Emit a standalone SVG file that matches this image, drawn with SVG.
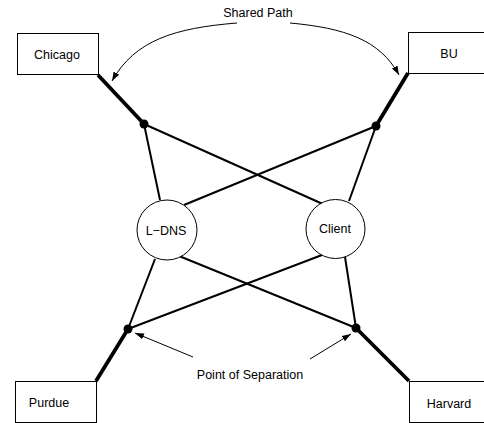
<svg xmlns="http://www.w3.org/2000/svg" width="484" height="423" viewBox="0 0 484 423">
<defs>
<style>
text{font-family:"Liberation Sans",Arial,sans-serif;font-size:12.5px;fill:#000;text-anchor:middle}
.box{fill:#fff;stroke:#000;stroke-width:1}
.node{fill:#fff;stroke:#000;stroke-width:1}
.thin{stroke:#000;stroke-width:2;fill:none}
.thick{stroke:#000;stroke-width:3.8;fill:none}
.ann{stroke:#000;stroke-width:1;fill:none}
.dot{fill:#000}
</style>
<marker id="ah" viewBox="0 0 10 10" refX="10" refY="5" markerWidth="9" markerHeight="9" markerUnits="userSpaceOnUse" orient="auto">
<path d="M0,1.5 L10,5 L0,8.5 Z" fill="#000"/>
</marker>
</defs>
<g id="connectors">
<line class="thick" x1="98" y1="75" x2="144" y2="124"/>
<line class="thick" x1="408" y1="73" x2="376" y2="126"/>
<line class="thick" x1="96" y1="381" x2="128" y2="329"/>
<line class="thick" x1="409" y1="381" x2="356" y2="328"/>
<line class="thin" x1="144" y1="124" x2="160" y2="200"/>
<line class="thin" x1="144" y1="124" x2="325" y2="205"/>
<line class="thin" x1="376" y1="126" x2="184" y2="205"/>
<line class="thin" x1="376" y1="126" x2="349" y2="201"/>
<line class="thin" x1="155" y1="259" x2="128" y2="329"/>
<line class="thin" x1="179" y1="256" x2="356" y2="328"/>
<line class="thin" x1="322" y1="255" x2="128" y2="329"/>
<line class="thin" x1="345" y1="257" x2="356" y2="328"/>
<path class="ann" d="M237,23 C175,28 135,40 112,81" marker-end="url(#ah)"/>
<path class="ann" d="M290,23 C345,28 380,40 399,75" marker-end="url(#ah)"/>
<line class="ann" x1="193" y1="357" x2="135" y2="333" marker-end="url(#ah)"/>
<line class="ann" x1="310" y1="359" x2="351" y2="334" marker-end="url(#ah)"/>
<circle class="dot" cx="144" cy="124" r="4.5"/>
<circle class="dot" cx="376" cy="126" r="4.5"/>
<circle class="dot" cx="128" cy="329" r="4.5"/>
<circle class="dot" cx="356" cy="328" r="4.5"/>
</g>
<g id="chicago"><rect class="box" x="17.5" y="33.5" width="81" height="41"/><text x="57" y="59">Chicago</text></g>
<g id="bu"><rect class="box" x="408.5" y="32.5" width="80" height="41"/><text x="449" y="58">BU</text></g>
<g id="purdue"><rect class="box" x="15.5" y="381.5" width="81" height="41"/><text x="49" y="407">Purdue</text></g>
<g id="harvard"><rect class="box" x="409.5" y="381.5" width="80" height="41"/><text x="449" y="408">Harvard</text></g>
<g id="ldns"><circle class="node" cx="167" cy="230" r="30"/><text x="166" y="235">L−DNS</text></g>
<g id="client"><circle class="node" cx="335.5" cy="229" r="29.5"/><text x="335" y="233">Client</text></g>
<g id="label-shared"><text x="258" y="17">Shared Path</text></g>
<g id="label-separation"><text x="250" y="379">Point of Separation</text></g>
</svg>
